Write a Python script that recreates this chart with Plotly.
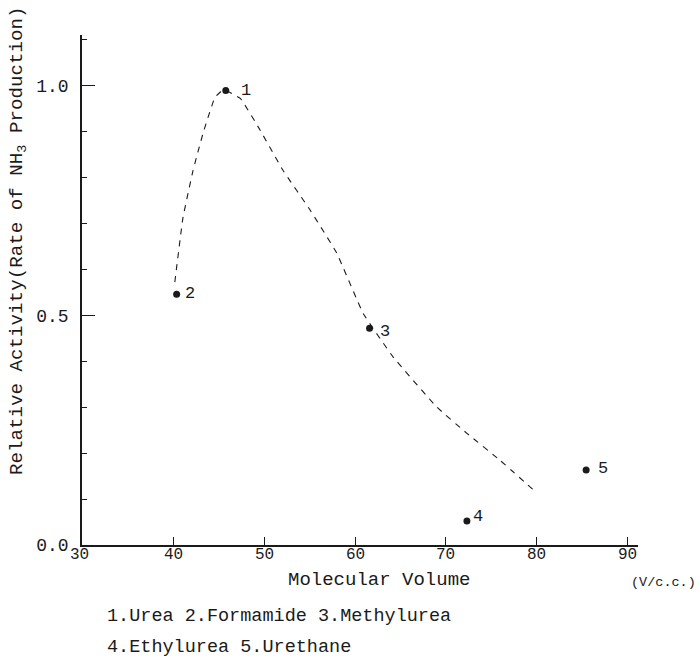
import plotly.graph_objects as go

# Data points (molecular volume, relative activity)
point_labels = ["1", "2", "3", "4", "5"]
point_x = [45.8, 40.4, 61.6, 72.3, 85.4]
point_y = [0.989, 0.546, 0.472, 0.052, 0.163]

# Dashed trend curve
curve_x = [40.2, 41.1, 42.2, 43.3, 44.6, 45.4, 45.8, 47.4, 49.6, 52.1, 55.1,
           58.0, 60.9, 64.2, 69.0, 72.3, 75.9, 80.0]
curve_y = [0.572, 0.713, 0.815, 0.896, 0.974, 0.989, 0.989, 0.972, 0.902, 0.815,
           0.728, 0.635, 0.504, 0.409, 0.300, 0.243, 0.185, 0.113]

x_ticks = [30, 40, 50, 60, 70, 80, 90]
x_ticktext = ["30", "40", "50", "60", "70", "80", "90"]
y_ticks = [0.0, 0.5, 1.0]
y_ticktext = ["0.0", "0.5", "1.0"]

legend_lines = ["1.Urea 2.Formamide 3.Methylurea", "4.Ethylurea 5.Urethane"]

FONT = "Liberation Mono, Courier New, monospace"
INK = "#1a1a1a"

fig = go.Figure()
fig.add_trace(go.Scatter(
    x=curve_x, y=curve_y, mode="lines",
    line=dict(color=INK, width=1.1, dash="6px,6px", shape="spline", smoothing=0.3),
    hoverinfo="skip", showlegend=False))
fig.add_trace(go.Scatter(
    x=point_x, y=point_y, mode="markers",
    marker=dict(color=INK, size=7), showlegend=False))

label_shift = {"1": (20, 0), "2": (13, 1), "3": (15, -3), "4": (11, 5), "5": (17, 2)}
for lab, px, py in zip(point_labels, point_x, point_y):
    dx, dy = label_shift[lab]
    fig.add_annotation(x=px, y=py, text=lab, showarrow=False, xshift=dx, yshift=dy,
                       xanchor="center", yanchor="middle",
                       font=dict(family=FONT, size=17, color=INK))

# x tick labels placed just under the axis line
for xv, xt in zip(x_ticks, x_ticktext):
    fig.add_annotation(x=xv, xref="x", y=0, yref="paper",
                       xanchor="center", yanchor="top",
                       text=xt, showarrow=False, yshift=1,
                       xshift=-3 if xv == 30 else 0,
                       font=dict(family=FONT, size=16, color=INK))

fig.add_annotation(xref="paper", yref="paper", x=-0.115, y=0.596,
                   xanchor="center", yanchor="middle",
                   text="Relative Activity(Rate of NH<sub>3</sub> Production)",
                   textangle=-90, showarrow=False,
                   font=dict(family=FONT, size=19.2, color=INK))
fig.add_annotation(xref="paper", yref="paper", x=0.534, y=-0.069,
                   xanchor="center", yanchor="middle",
                   text="Molecular Volume", showarrow=False,
                   font=dict(family=FONT, size=19, color=INK))
fig.add_annotation(xref="paper", yref="paper", x=1.045, y=-0.073,
                   xanchor="center", yanchor="middle",
                   text="(V/c.c.)", showarrow=False,
                   font=dict(family=FONT, size=13.5, color=INK))
for i, line in enumerate(legend_lines):
    fig.add_annotation(xref="paper", yref="paper", x=0.041, y=-0.141 - 0.059 * i,
                       xanchor="left", yanchor="middle", text=line, showarrow=False,
                       font=dict(family=FONT, size=18.5, color=INK))

fig.update_layout(
    width=700, height=664,
    margin=dict(l=82, r=62, t=35, b=119, autoexpand=False),
    paper_bgcolor="white", plot_bgcolor="white",
    xaxis=dict(range=[30, 91.1], tickvals=x_ticks, ticks="inside", ticklen=8,
               tickcolor=INK, tickwidth=1.3, showticklabels=False,
               showline=True, linecolor=INK, linewidth=1.5, showgrid=False,
               zeroline=False, automargin=False),
    yaxis=dict(range=[0, 1.11], tickvals=y_ticks, ticktext=y_ticktext,
               ticks="inside", ticklen=13, tickcolor=INK, tickwidth=1.3,
               minor=dict(dtick=0.1, ticks="inside", ticklen=5, tickcolor=INK,
                          tickwidth=1.2, showgrid=False),
               showline=True, linecolor=INK, linewidth=1.5, showgrid=False,
               zeroline=False, ticklabelstandoff=8, automargin=False,
               tickfont=dict(family=FONT, size=18, color=INK)),
)

fig.write_html("out.html",
               config={"displayModeBar": False},
               post_script="document.body.style.margin='0';"
                           "document.body.style.overflow='hidden';")
